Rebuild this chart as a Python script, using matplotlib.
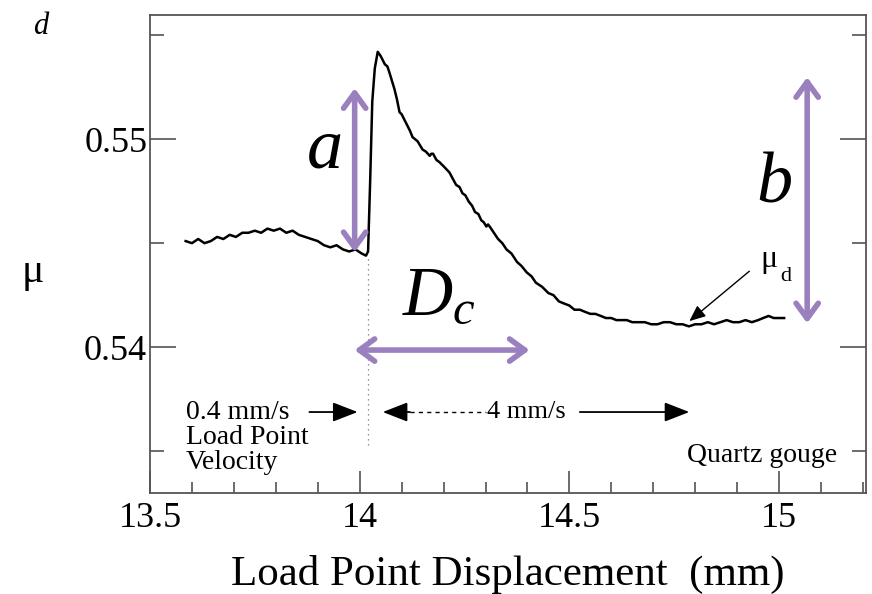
import numpy as np
import matplotlib
matplotlib.use("Agg")
import matplotlib.pyplot as plt

plt.rcParams['font.family'] = ['Liberation Serif', 'DejaVu Serif']
plt.rcParams['mathtext.fontset'] = 'custom'
plt.rcParams['mathtext.it'] = 'Liberation Serif:italic'
plt.rcParams['mathtext.rm'] = 'Liberation Serif'

# friction record (load point displacement in mm, friction coefficient)
disp_pre = [13.585, 13.60, 13.615, 13.63, 13.645, 13.66, 13.675, 13.69, 13.705, 13.72,
            13.735, 13.75, 13.765, 13.78, 13.795, 13.81, 13.825, 13.84, 13.855, 13.87,
            13.885, 13.90, 13.915, 13.93, 13.945, 13.96, 13.975, 13.99, 14.005, 14.015, 14.02]
mu_pre = [0.5451, 0.5450, 0.5452, 0.5450, 0.5451, 0.5453, 0.5452, 0.5454, 0.5453, 0.5455,
          0.5455, 0.5456, 0.5455, 0.5457, 0.5456, 0.5457, 0.5455, 0.5456, 0.5454, 0.5453,
          0.5452, 0.5451, 0.5449, 0.5448, 0.5449, 0.5447, 0.5446, 0.5447, 0.5445, 0.5444, 0.5446]

disp_post = [14.025, 14.03, 14.036, 14.043, 14.05, 14.06, 14.066, 14.071, 14.077, 14.083,
             14.089, 14.095, 14.10, 14.105, 14.11, 14.115, 14.12, 14.126, 14.132, 14.138,
             14.144, 14.15, 14.158, 14.167, 14.171, 14.175, 14.183, 14.19, 14.20, 14.214,
             14.222, 14.23, 14.238, 14.245, 14.252, 14.26, 14.268, 14.275, 14.283, 14.29,
             14.296, 14.302, 14.306, 14.31, 14.32, 14.33, 14.34, 14.35, 14.362, 14.375,
             14.386, 14.398, 14.41, 14.42, 14.435, 14.45, 14.462, 14.475, 14.487, 14.50,
             14.512, 14.525, 14.537, 14.55, 14.562, 14.575, 14.587, 14.60, 14.612, 14.625,
             14.637, 14.65, 14.665, 14.68, 14.695, 14.71, 14.725, 14.74, 14.755, 14.77,
             14.785, 14.80, 14.815, 14.83, 14.845, 14.86, 14.875, 14.89, 14.905, 14.92,
             14.935, 14.95, 14.962, 14.975, 14.987, 15.0, 15.012]
mu_post = [0.5480, 0.5518, 0.5534, 0.5542, 0.5540, 0.5536, 0.5535, 0.5532, 0.5528, 0.5524,
           0.5519, 0.5513, 0.5512, 0.5510, 0.5508, 0.5506, 0.5504, 0.5501, 0.5500, 0.5499,
           0.5497, 0.5495, 0.5494, 0.5492, 0.5493, 0.5493, 0.5490, 0.5489, 0.5487, 0.5484,
           0.5481, 0.5478, 0.5477, 0.5474, 0.5473, 0.5470, 0.5468, 0.5465, 0.5464, 0.5461,
           0.5460, 0.5458, 0.5459, 0.5458, 0.5455, 0.5452, 0.5450, 0.5447, 0.5445, 0.5441,
           0.5439, 0.5436, 0.5434, 0.5431, 0.5429, 0.5426, 0.5425, 0.5422, 0.5421, 0.5420,
           0.5418, 0.5418, 0.5417, 0.5416, 0.5416, 0.5415, 0.5414, 0.5414, 0.5413, 0.5413,
           0.5413, 0.5412, 0.5412, 0.5412, 0.5411, 0.5411, 0.5412, 0.5412, 0.5411, 0.5411,
           0.5410, 0.5411, 0.5411, 0.5412, 0.5411, 0.5412, 0.5413, 0.5412, 0.5412, 0.5413,
           0.5412, 0.5413, 0.5414, 0.5415, 0.5414, 0.5414, 0.5414]

disp = disp_pre + disp_post
mu = mu_pre + mu_post

x_ticks = [13.5, 14, 14.5, 15]
x_tick_labels = ['13.5', '14', '14.5', '15']
y_ticks = [0.54, 0.55]
y_tick_labels = ['0.54', '0.55']

purple = '#9A80BE'

fig = plt.figure(figsize=(8.72, 5.94), dpi=100)
ax = fig.add_axes([0.172, 0.1705, 0.821, 0.8035])

ax.plot(disp, mu, color='black', lw=1.8)

# velocity step marker
ax.plot([14.019, 14.019], [0.5353, 0.5444], color='#777777', lw=0.9, ls=(0, (1, 3)))

ax.set_xlim(13.5, 15.207)
ax.set_ylim(0.5330, 0.55595)
ax.set_xticks(x_ticks)
ax.set_xticklabels(x_tick_labels)
ax.set_yticks(y_ticks)
ax.set_yticklabels(y_tick_labels)
ax.set_xticks(np.arange(13.5, 15.21, 0.1), minor=True)
ax.set_yticks([0.535, 0.545, 0.555], minor=True)
ax.tick_params(which='both', direction='in', top=False, right=True, labelsize=26,
               color='#444444', width=1.1)
ax.tick_params(axis='x', which='major', length=16, pad=7)
ax.tick_params(axis='x', which='minor', length=8)
ax.tick_params(axis='y', which='major', length=19, pad=2)
ax.tick_params(axis='y', which='minor', length=10)
for s in ax.spines.values():
    s.set_color('#555555')
    s.set_linewidth(1.3)

ax.set_xlabel('Load Point Displacement  (mm)', fontsize=31, labelpad=14)
fig.text(0.038, 0.542, 'μ', fontsize=30, ha='center', va='center')
fig.text(0.047, 0.955, 'd', fontsize=22, style='italic', ha='center', va='center')

# purple annotations
arrow_kw = dict(arrowstyle='<->,head_length=0.55,head_width=0.4', color=purple, lw=4,
                shrinkA=0, shrinkB=0, mutation_scale=20)
ax.annotate('', xy=(13.988, 0.55245), xytext=(13.988, 0.54457), arrowprops=arrow_kw)
ax.annotate('', xy=(15.067, 0.55298), xytext=(15.067, 0.54115), arrowprops=arrow_kw)
ax.annotate('', xy=(13.988, 0.53986), xytext=(14.405, 0.53986), arrowprops=arrow_kw)
ax.text(13.917, 0.5495, 'a', fontsize=52, style='italic', ha='center', va='center')
ax.text(14.988, 0.5478, 'b', fontsize=52, style='italic', ha='center', va='center')
ax.text(14.19, 0.5424, r'$D_c$', fontsize=50, ha='center', va='center')

# mu_d label
ax.annotate('', xy=(14.786, 0.54125), xytext=(14.929, 0.54365),
            arrowprops=dict(arrowstyle='-|>,head_length=0.7,head_width=0.3', color='black',
                            lw=1.0, shrinkA=0, shrinkB=0, mutation_scale=14))
ax.text(14.955, 0.5442, 'μ', fontsize=23, ha='left', va='center')
ax.text(15.002, 0.5434, 'd', fontsize=16, ha='left', va='center')

# velocity annotations
vel_y = 0.53688
ax.text(13.585, 0.53567, '0.4 mm/s\nLoad Point\nVelocity', fontsize=20, ha='left', va='center',
        linespacing=1.0)
solid_head = dict(arrowstyle='-|>,head_length=0.9,head_width=0.35', color='black', lw=1.3,
                  shrinkA=0, shrinkB=0, mutation_scale=17)
ax.annotate('', xy=(13.995, vel_y), xytext=(13.88, vel_y), arrowprops=solid_head)
ax.annotate('', xy=(14.055, vel_y), xytext=(14.12, vel_y), arrowprops=solid_head)
ax.plot([14.12, 14.30], [vel_y, vel_y], color='black', lw=1.0, ls=(0, (3, 3)))
ax.text(14.398, vel_y, '4 mm/s', fontsize=19, ha='center', va='center')
ax.annotate('', xy=(14.786, vel_y), xytext=(14.525, vel_y), arrowprops=solid_head)
ax.text(15.138, 0.53481, 'Quartz gouge', fontsize=20, ha='right', va='center')

fig.savefig('out.png', dpi=100)
